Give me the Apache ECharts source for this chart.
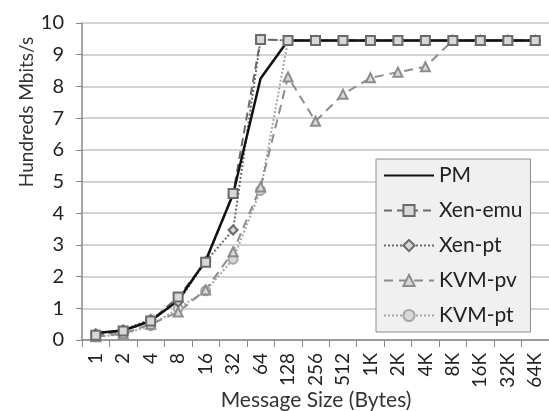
<!DOCTYPE html>
<html>
<head>
<meta charset="utf-8">
<script src="https://cdn.jsdelivr.net/npm/echarts@6/dist/echarts.min.js"></script>
<style>
  html, body { margin: 0; padding: 0; background: #fff; }
  #chart { width: 549px; height: 411px; }
</style>
</head>
<body>
<div id="chart"></div>
<script>
const sizes = ["1", "2", "4", "8", "16", "32", "64", "128", "256", "512", "1K", "2K", "4K", "8K", "16K", "32K", "64K"];
const yTicks = [0, 1, 2, 3, 4, 5, 6, 7, 8, 9, 10];

const pm     = [0.22, 0.3, 0.6, 1.25, 2.5, 4.6, 8.25, 9.45, 9.45, 9.45, 9.45, 9.45, 9.45, 9.45, 9.45, 9.45, 9.45];
const xenEmu = [0.15, 0.28, 0.6, 1.36, 2.45, 4.62, 9.48, 9.45, 9.45, 9.45, 9.45, 9.45, 9.45, 9.45, 9.45, 9.45, 9.45];
const xenPt  = [0.2, 0.32, 0.65, 1.2, 2.48, 3.47, 9.48, 9.45, 9.45, 9.45, 9.45, 9.45, 9.45, 9.45, 9.45, 9.45, 9.45];
const kvmPv  = [0.1, 0.2, 0.5, 0.88, 1.58, 2.78, 4.83, 8.3, 6.9, 7.75, 8.27, 8.45, 8.62, 9.45, 9.45, 9.45, 9.45];
const kvmPt  = [0.1, 0.18, 0.45, 1.0, 1.55, 2.55, 4.72, 9.45, 9.45, 9.45, 9.45, 9.45, 9.45, 9.45, 9.45, 9.45, 9.45];

const font = "Lato, 'Open Sans', sans-serif";

function series(name, data, color, lineType, width, symbol) {
  return {
    name: name,
    type: "line",
    data: data,
    symbol: symbol,
    symbolSize: 9,
    lineStyle: { color: color, width: width, type: lineType },
    itemStyle: { color: "#d8d8d8", borderColor: color, borderWidth: 2 },
    emphasis: { disabled: true },
  };
}

const chart = echarts.init(document.getElementById("chart"));
chart.setOption({
  animation: false,
  textStyle: { fontFamily: font },
  grid: { left: 82, top: 23, width: 467, height: 317, containLabel: false, outerBoundsMode: "none" },
  // axis titles placed by hand, the original puts them off-centre
  graphic: [{
    type: "text",
    x: 27,
    y: 112,
    rotation: Math.PI / 2,
    style: {
      text: "Hundreds Mbits/s",
      fontFamily: font,
      fontSize: 19,
      fill: "#333",
      align: "center",
      verticalAlign: "middle",
    },
  }, {
    type: "text",
    x: 316,
    y: 400,
    style: {
      text: "Message Size (Bytes)",
      fontFamily: font,
      fontSize: 21,
      fill: "#333",
      align: "center",
      verticalAlign: "middle",
    },
  }],
  legend: {
    orient: "vertical",
    left: 376,
    top: 159,
    width: 149,
    height: 169,
    padding: [6, 8, 6, 7],
    backgroundColor: "#f0f0f0",
    borderColor: "#8c8c8c",
    borderWidth: 1,
    itemWidth: 50,
    itemHeight: 14,
    itemGap: 14,
    textStyle: { fontFamily: font, fontSize: 21, lineHeight: 20, color: "#222" },
    data: [
      { name: "PM", itemStyle: { color: "transparent", borderColor: "transparent", borderWidth: 0 } },
      "Xen-emu", "Xen-pt", "KVM-pv", "KVM-pt",
    ],
  },
  xAxis: {
    type: "category",
    data: sizes,
    boundaryGap: true,
    axisLine: { lineStyle: { color: "#888", width: 1.5 } },
    axisTick: { show: true, length: 7, lineStyle: { color: "#888" } },
    axisLabel: { rotate: 90, fontSize: 19, color: "#222", margin: 13, fontFamily: font },
  },
  yAxis: {
    type: "value",
    min: yTicks[0],
    max: yTicks[yTicks.length - 1],
    interval: 1,
    axisLine: { show: true, lineStyle: { color: "#888", width: 1.5 } },
    axisTick: { show: true, length: 6, lineStyle: { color: "#888" } },
    axisLabel: { fontSize: 20, color: "#222", margin: 18, fontFamily: font },
    splitLine: { lineStyle: { color: "#c4c4c4", width: 1.5 } },
  },
  series: [
    series("KVM-pt", kvmPt, "#a6a6a6", [2, 2], 2, "circle"),
    series("KVM-pv", kvmPv, "#8c8c8c", [9, 6], 2, "triangle"),
    series("Xen-pt", xenPt, "#6a6a6a", [2, 2], 2, "diamond"),
    series("Xen-emu", xenEmu, "#6a6a6a", [8, 5], 2, "rect"),
    series("PM", pm, "#111", "solid", 2.5, "none"),
  ],
});
</script>
</body>
</html>
